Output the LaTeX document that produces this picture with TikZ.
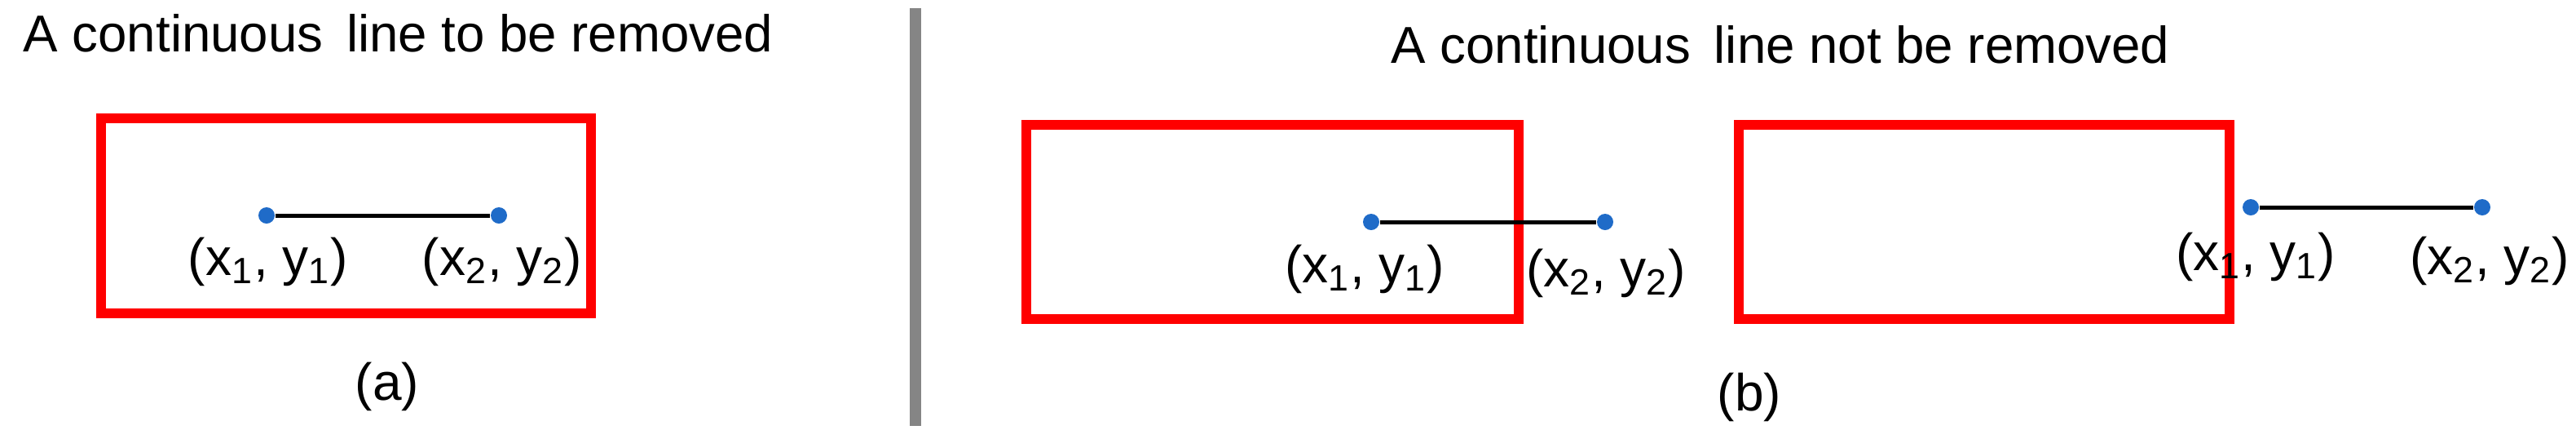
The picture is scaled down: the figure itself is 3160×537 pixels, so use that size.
\documentclass[tikz,border=0pt]{standalone}
\usepackage{fontspec}
\setmainfont{Liberation Sans}
\definecolor{boxred}{HTML}{FF0000}
\definecolor{dotblue}{HTML}{1F6BC8}
\definecolor{divgray}{HTML}{858585}
\begin{document}
\begin{tikzpicture}[x=0.25pt,y=-0.25pt,
  redbox/.style={draw=boxred,line width=3pt},
  seg/.style={draw=black,line width=1.25pt},
  enddot/.style={circle,fill=dotblue,inner sep=0pt,minimum size=5pt},
  txt/.style={inner sep=0pt,font=\fontsize{15.9pt}{19pt}\selectfont},
  lbl/.style={inner sep=0pt,anchor=base,font=\fontsize{16pt}{19pt}\selectfont}]
\useasboundingbox (0,0) rectangle (3160,537);
% divider
\coordinate (dtop) at (1123,10);
\coordinate (dbot) at (1123,522);
\draw[divgray,line width=3.5pt] (dtop) -- (dbot);
% titles
\node[txt,anchor=base west] (ta) at (28,63) {A continuous\hspace{0.45em}line to be removed};
\node[txt,anchor=base] (tb) at (2184,77) {A continuous\hspace{0.45em}line not be removed};
% boxes
\draw[redbox] (124,145) rectangle (725,384);
\draw[redbox] (1259,153) rectangle (1863,391);
\draw[redbox] (2133,153) rectangle (2735,391);
% panel (a)
\node[enddot] (a1) at (327,264) {};
\node[enddot] (a2) at (612,264) {};
\draw[seg] (a1) -- (a2);
\node[lbl] (la1) at (329,337) {(x\textsubscript{1}, y\textsubscript{1})};
\node[lbl] (la2) at (616,337) {(x\textsubscript{2}, y\textsubscript{2})};
\node[lbl] (capa) at (475,490) {(a)};
% panel (b) left
\node[enddot] (b1) at (1682,272) {};
\node[enddot] (b2) at (1969,272) {};
\draw[seg] (b1) -- (b2);
\node[lbl] (lb1) at (1674,346) {(x\textsubscript{1}, y\textsubscript{1})};
\node[lbl] (lb2) at (1970,351) {(x\textsubscript{2}, y\textsubscript{2})};
% panel (b) right
\node[enddot] (c1) at (2761,254) {};
\node[enddot] (c2) at (3045,254) {};
\draw[seg] (c1) -- (c2);
\node[lbl] (lc1) at (2767,331) {(x\textsubscript{1}, y\textsubscript{1})};
\node[lbl] (lc2) at (3054,336) {(x\textsubscript{2}, y\textsubscript{2})};
\node[lbl] (capb) at (2146,503) {(b)};
\end{tikzpicture}
\end{document}
